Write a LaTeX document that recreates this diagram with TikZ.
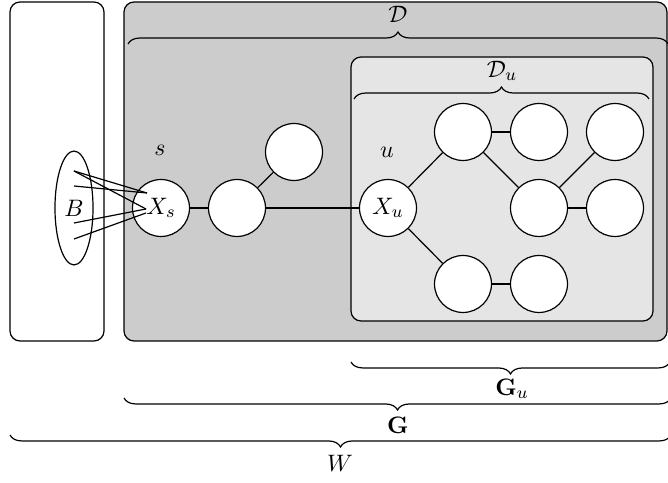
\documentclass[tikz,border=0pt]{standalone}
\usetikzlibrary{decorations.pathreplacing,shapes.geometric}
\begin{document}
\begin{tikzpicture}[x=0.46pt,y=-0.46pt,line width=0.55pt,
  every node/.style={font=\fontsize{11}{13}\selectfont},
  nd/.style={circle,draw,fill=white,minimum size=26.2pt,inner sep=0pt},
  rbox/.style={draw,rounded corners=4.6pt},
  brc/.style={decorate,decoration={brace,amplitude=5.5pt}},
  lbl/.style={inner sep=0pt}]
\useasboundingbox (0,0) rectangle (668,483);
% boxes
\draw[rbox,fill=white] (10,2) rectangle (104,341);
\draw[rbox,fill={rgb,255:red,204;green,204;blue,204}] (124,2) rectangle (667,341);
\draw[rbox,fill={rgb,255:red,229;green,229;blue,229}] (351,57) rectangle (653,321);
% top braces and labels
\draw[brc] (128,44) -- (668,44);
\node[lbl] (Dl) at (398,14) {$\mathcal{D}$};
\draw[brc] (354,99) -- (649,99);
\node[lbl] (Dul) at (502,71) {$\mathcal{D}_u$};
% nodes
\node[nd] (Xs) at (161,208) {$X_s$};
\node[nd] (n2) at (237,208) {};
\node[nd] (n3) at (294,152) {};
\node[nd] (Xu) at (388,208) {$X_u$};
\node[nd] (t1) at (463,132) {};
\node[nd] (t2) at (539,132) {};
\node[nd] (t3) at (615,132) {};
\node[nd] (m1) at (539,208) {};
\node[nd] (m2) at (615,208) {};
\node[nd] (b1) at (463,284) {};
\node[nd] (b2) at (539,284) {};
\node[lbl] (sl) at (160,150) {$s$};
\node[lbl] (ul) at (387,152) {$u$};
% edges
\draw (Xs) -- (n2);
\draw (n2) -- (n3);
\draw (n2) -- (Xu);
\draw (Xu) -- (t1);
\draw (Xu) -- (b1);
\draw (t1) -- (t2);
\draw (t1) -- (m1);
\draw (m1) -- (t3);
\draw (m1) -- (m2);
\draw (b1) -- (b2);
% B
\node[ellipse,draw,minimum width=17.5pt,minimum height=52.4pt,inner sep=0pt] (B) at (74,208) {$B$};
\coordinate (p1) at (74,171);
\coordinate (p2) at (74,186);
\coordinate (p3) at (74,223);
\coordinate (p4) at (74,239);
\coordinate (q1) at (147,193);
\coordinate (q2) at (146,209);
\coordinate (q3) at (146,213);
\draw (p1) -- (q1);
\draw (p1) -- (q2);
\draw (p2) -- (q1);
\draw (p3) -- (q2);
\draw (p4) -- (q3);
% bottom braces
\draw[brc] (670,362) -- (351,362);
\node[lbl] (Gul) at (512,389) {$\mathbf{G}_u$};
\draw[brc] (671,398) -- (124,398);
\node[lbl] (Gl) at (398,425) {$\mathbf{G}$};
\draw[brc] (671,435) -- (10,435);
\node[lbl] (Wl) at (340,463) {$W$};
\end{tikzpicture}
\end{document}
